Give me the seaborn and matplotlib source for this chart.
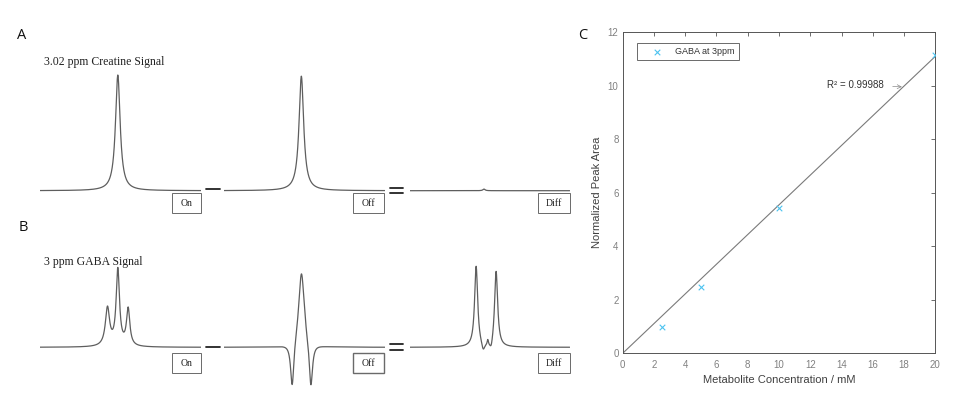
import numpy as np
import matplotlib
matplotlib.use('Agg')
import matplotlib.pyplot as plt
from matplotlib.lines import Line2D
from matplotlib.patches import Rectangle
import seaborn as sns

crea_on_pos = [3.02]
crea_on_amp = [1.0]
crea_on_hw = [0.021]
crea_off_pos = [3.022]
crea_off_amp = [0.99]
crea_off_hw = [0.021]
crea_diff_pos = [3.044]
crea_diff_amp = [0.014]
crea_diff_hw = [0.01]

gaba_on_pos = [3.097, 3.02, 2.943]
gaba_on_amp = [0.33, 0.66, 0.32]
gaba_on_hw = [0.019, 0.015, 0.015]
gaba_off_pos = [3.09, 3.021, 2.951]
gaba_off_amp = [-0.40, 0.67, -0.40]
gaba_off_hw = [0.015, 0.026, 0.015]
gaba_diff_pos = [3.103, 3.05, 3.016, 2.99, 2.953]
gaba_diff_amp = [0.70, -0.07, 0.045, -0.07, 0.66]
gaba_diff_hw = [0.014, 0.014, 0.005, 0.014, 0.014]

box_labels = ['On', 'Off', 'Diff']
titles = ['3.02 ppm Creatine Signal', '3 ppm GABA Signal']

# panel C
conc = [2.5, 5, 10, 20]
peak_area = [1.0, 2.47, 5.44, 11.15]
fit_x = [0, 20]
fit_y = [0.0, 11.1]
r_squared = 0.99988


def spectrum(ppm, pos, amp, hw):
    out = np.zeros_like(ppm)
    for p, a, w in zip(pos, amp, hw):
        out += a * w**2 / (w**2 + (ppm - p)**2)
    return out


W, H = 975, 399
sns.set_theme(style='white')
plt.rcParams['font.family'] = ['Liberation Sans', 'DejaVu Sans']

fig = plt.figure(figsize=(W / 100, H / 100), dpi=100)


def px_axes(x0, y0, x1, y1):
    return fig.add_axes([x0 / W, 1 - y1 / H, (x1 - x0) / W, (y1 - y0) / H])


def px_line(x0, x1, y, lw=1.3):
    fig.add_artist(Line2D([x0 / W, x1 / W], [1 - y / H, 1 - y / H],
                          transform=fig.transFigure, color='#222222', lw=lw))


def px_box(x0, y0, x1, y1, text, lw=0.7):
    fig.add_artist(Rectangle((x0 / W, 1 - y1 / H), (x1 - x0) / W, (y1 - y0) / H,
                             transform=fig.transFigure, fill=False,
                             ec='#6a6a6a', lw=lw))
    fig.text((x0 + x1) / 2 / W, 1 - (y0 + y1) / 2 / H, text,
             family='Liberation Serif', size=7, color='#222222',
             ha='center', va='center')


ppm = np.linspace(3.6, 2.4, 1201)
rows = [[spectrum(ppm, crea_on_pos, crea_on_amp, crea_on_hw),
         spectrum(ppm, crea_off_pos, crea_off_amp, crea_off_hw),
         spectrum(ppm, crea_diff_pos, crea_diff_amp, crea_diff_hw)],
        [spectrum(ppm, gaba_on_pos, gaba_on_amp, gaba_on_hw),
         spectrum(ppm, gaba_off_pos, gaba_off_amp, gaba_off_hw),
         spectrum(ppm, gaba_diff_pos, gaba_diff_amp, gaba_diff_hw)]]

trace_x = [(40, 201), (223.8, 384.8), (410, 569.7)]
box_x = [(172.4, 200.9), (353.3, 383.6), (537.5, 569.7)]
baselines = [190.7, 347.3]
box_y = [(193.3, 213.3), (353.3, 372.7)]
title_y = [65.5, 264.5]
scale = 115.7
ylo, yhi = -0.4, 1.05

for r, signals in enumerate(rows):
    base = baselines[r]
    for (x0, x1), sig in zip(trace_x, signals):
        ax = px_axes(x0, base - yhi * scale, x1, base - ylo * scale)
        sns.lineplot(x=ppm, y=sig, ax=ax, color='#5e5e5e', lw=0.9,
                     estimator=None, sort=False)
        ax.set_xlim(3.6, 2.4)
        ax.set_ylim(ylo, yhi)
        ax.axis('off')
    for (x0, x1), lab in zip(box_x, box_labels):
        lw = 1.0 if (r == 1 and lab == 'Off') else 0.7
        px_box(x0, box_y[r][0], x1, box_y[r][1], lab, lw=lw)
    fig.text(44.4 / W, 1 - title_y[r] / H, titles[r], family='Liberation Serif',
             size=8.5, color='#222222', ha='left', va='baseline')

# minus and equals signs
px_line(206.4, 220.1, 189.3)
px_line(389.6, 403.3, 187.7)
px_line(389.6, 403.3, 192.7)
px_line(206.4, 220.1, 346.7)
px_line(389.6, 403.3, 344.2)
px_line(389.6, 403.3, 349.5)

# panel letters
for lab, x, y in [('A', 17.4, 35.5), ('B', 18.5, 227.7), ('C', 578, 35.5)]:
    fig.text(x / W, 1 - y / H, lab, family='Open Sans', size=10.5,
             color='#111111', ha='left', va='center')

# panel C calibration
axc = px_axes(622.7, 32.3, 935.3, 353.3)
sns.lineplot(x=fit_x, y=fit_y, ax=axc, color='#7a7a7a', lw=0.8)
sns.scatterplot(x=conc, y=peak_area, ax=axc, marker='x', s=16, color='#4cc3f0',
                linewidth=0.8, label='GABA at 3ppm', zorder=3)
axc.set_xlim(0, 20)
axc.set_ylim(0, 12)
axc.set_xticks(range(0, 21, 2))
axc.set_yticks(range(0, 13, 2))
axc.tick_params(direction='in', top=True, right=True, length=3, width=0.6,
                color='#555555', labelcolor='#808080', labelsize=7)
axc.tick_params(axis='x', pad=4.5)
axc.tick_params(axis='y', pad=3)
for s in axc.spines.values():
    s.set_color('#555555')
    s.set_linewidth(0.7)
axc.set_xlabel('Metabolite Concentration / mM', size=8, color='#404040', labelpad=4)
axc.set_ylabel('Normalized Peak Area', size=8, color='#404040', labelpad=4)

leg = axc.legend(loc='upper left', bbox_to_anchor=(0.0448, 0.9657),
                 borderaxespad=0, fancybox=False, edgecolor='#6a6a6a',
                 fontsize=6.5, handlelength=3.5, handletextpad=0.3,
                 borderpad=0.45, framealpha=1)
leg.get_frame().set_linewidth(0.7)
for t in leg.get_texts():
    t.set_color('#333333')

axc.annotate(f'R² = {r_squared}', xy=(17.95, 9.96), xytext=(13.08, 10.02),
             ha='left', va='center', size=7, color='#333333',
             arrowprops=dict(arrowstyle='->', color='#8a8a8a', lw=0.5,
                             shrinkA=4, shrinkB=1))

fig.savefig('out.png', dpi=100)
